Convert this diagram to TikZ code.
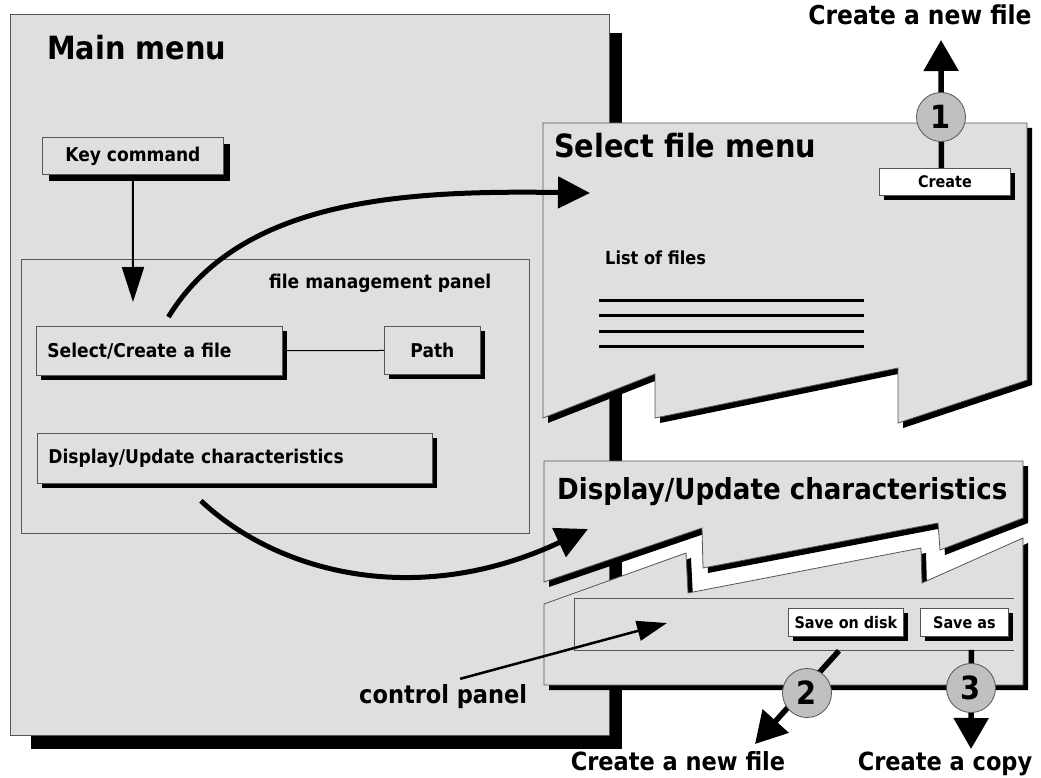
\documentclass[tikz,border=0pt]{standalone}
\usepackage{fontspec}
\setmainfont{DejaVu Sans}[FakeStretch=0.9]
\usetikzlibrary{arrows.meta,shadows}
\definecolor{panelgray}{RGB}{223,223,223}
\definecolor{discgray}{RGB}{192,192,192}
\definecolor{edgegray}{RGB}{85,85,85}
\newcommand{\bsize}[1]{\fontsize{#1}{#1}\selectfont\bfseries}

\begin{document}
\begin{tikzpicture}[x=1pt,y=-1pt,
  every node/.style={inner sep=0pt},
  hardshadow/.style={drop shadow={shadow xshift=#1,shadow yshift=-#1,opacity=1,fill=black}},
  hardshadow/.default=5pt,
  menubox/.style={draw=edgegray,line width=0.8pt,fill=panelgray,font=\bsize{19}},
  button/.style={draw=edgegray,line width=0.8pt,fill=white,hardshadow=5pt,font=\bsize{16}},
  disc/.style={circle,draw=edgegray,line width=0.8pt,fill=discgray,minimum size=49pt,font=\bsize{32}},
  frameline/.style={draw=edgegray,line width=0.8pt},
  tornpanel/.style={fill=panelgray,draw=edgegray,line width=0.8pt,
    preaction={fill=black,transform canvas={xshift=5pt,yshift=-5pt}}},
  flow/.style={line width=5pt,-{Triangle[length=32pt,width=31pt]}},
  outarrow/.style={line width=5.5pt,-{Triangle[length=31pt,width=34pt]}},
  title/.style={anchor=base west,font=\bsize{#1}},
]
\useasboundingbox (0,0) rectangle (1041,778);

% main menu window with its offset shadow
\fill[black] (31,33) rectangle (622,749);
\node[draw=edgegray,line width=0.8pt,fill=panelgray,minimum width=599pt,minimum height=721pt,anchor=north west] (mainmenu) at (10,14) {};
\node[title=32] (maintitle) at (47,60) {Main menu};

\node[menubox,hardshadow=7pt,minimum width=181pt,minimum height=37pt,anchor=north west] (keycmd) at (42,137) {Key command};

% file management panel
\node[frameline,minimum width=508pt,minimum height=274pt,anchor=north west] (fmpanel) at (21,259) {};
\node[title=19] (fmlabel) at (269,288) {file management panel};

\node[menubox,hardshadow=5pt,minimum height=49pt,text width=224pt,inner xsep=11pt,align=left,anchor=north west] (selcreate) at (36,326) {Select/Create a file};
\node[menubox,hardshadow=5pt,minimum width=96pt,minimum height=48pt,anchor=north west] (pathbox) at (384,326) {Path};
\draw[line width=1pt] (selcreate) -- (pathbox);
\node[menubox,hardshadow=5pt,minimum height=50pt,text width=373pt,inner xsep=11pt,align=left,anchor=north west] (dispbox) at (37,433) {Display/Update characteristics};

\coordinate (keytip) at (133,302);
\draw[line width=2pt,-{Triangle[length=35pt,width=22pt]}] (keycmd.south) -- (keytip);

% select file menu, torn at the bottom
\path[tornpanel] (543,123) -- (1027,123) -- (1027,380) -- (898,423) -- (898,368)
  -- (655,418) -- (655,374) -- (543,418) -- cycle;
\node[title=32] (seltitle) at (554,158) {Select file menu};
\node[button,minimum width=131pt,minimum height=27pt,anchor=north west] (createbtn) at (879,168) {Create};
\node[title=18] (listlabel) at (605,264) {List of files};
\foreach \yy in {300,315,331,346}
  \draw[line width=3pt] (599,\yy) -- (864,\yy);

% display / update characteristics, split into two torn pieces
\path[tornpanel] (544,604) -- (686,553) -- (688,593) -- (921,548) -- (922,583)
  -- (1023,538) -- (1023,685) -- (544,685) -- cycle;
\path[tornpanel] (544,461) -- (1023,461) -- (1023,518) -- (940,550) -- (938,523)
  -- (703,568) -- (702,528) -- (544,582) -- cycle;
\node[title=29] (disptitle) at (557,499) {Display/Update characteristics};

% control panel strip and its buttons
\draw[frameline] (1014,598) -- (574,598) -- (574,650) -- (1014,650);
\node[button,minimum width=115pt,minimum height=28pt,anchor=north west] (savedisk) at (788,608) {Save on disk};
\node[button,minimum width=88pt,minimum height=28pt,anchor=north west] (saveas) at (920,608) {Save as};

% flows from the main menu into the sub-menus
\coordinate (seltip) at (590,193);
\draw[flow] ([xshift=9pt,yshift=9pt]selcreate.north) .. controls (240,200) and (400,190) .. (seltip);
\coordinate (disptip) at (588,529);
\draw[flow] ([xshift=-34pt,yshift=-17pt]dispbox.south) .. controls (280,575) and (420,608) .. (disptip);

% control panel callout
\node[title=25] (cplabel) at (359,703) {control panel};
\coordinate (cptip) at (667,623);
\draw[line width=2.5pt,-{Triangle[length=30pt,width=20pt]}] ([xshift=17pt,yshift=5pt]cplabel.north) -- (cptip);

% numbered exits
\coordinate (tip1) at (941,40);
\draw[outarrow] ([xshift=-3.5pt]createbtn.north) -- (tip1);
\node[disc] (n1) at (941,117) {1};
\node[anchor=base,font=\bsize{26}] (newfile1) at (920,25) {Create a new file};

\coordinate (tip2) at (755,744);
\draw[outarrow] ([xshift=-7pt,yshift=-14pt]savedisk.south) -- (tip2);
\node[disc] (n2) at (807,693) {2};
\node[anchor=base,font=\bsize{25}] (newfile2) at (678,770) {Create a new file};

\coordinate (tip3) at (971,749);
\draw[outarrow] ([xshift=7pt,yshift=-13pt]saveas.south) -- (tip3);
\node[disc] (n3) at (971,688) {3};
\node[anchor=base,font=\bsize{25}] (copylabel) at (945,770) {Create a copy};
\end{tikzpicture}
\end{document}
